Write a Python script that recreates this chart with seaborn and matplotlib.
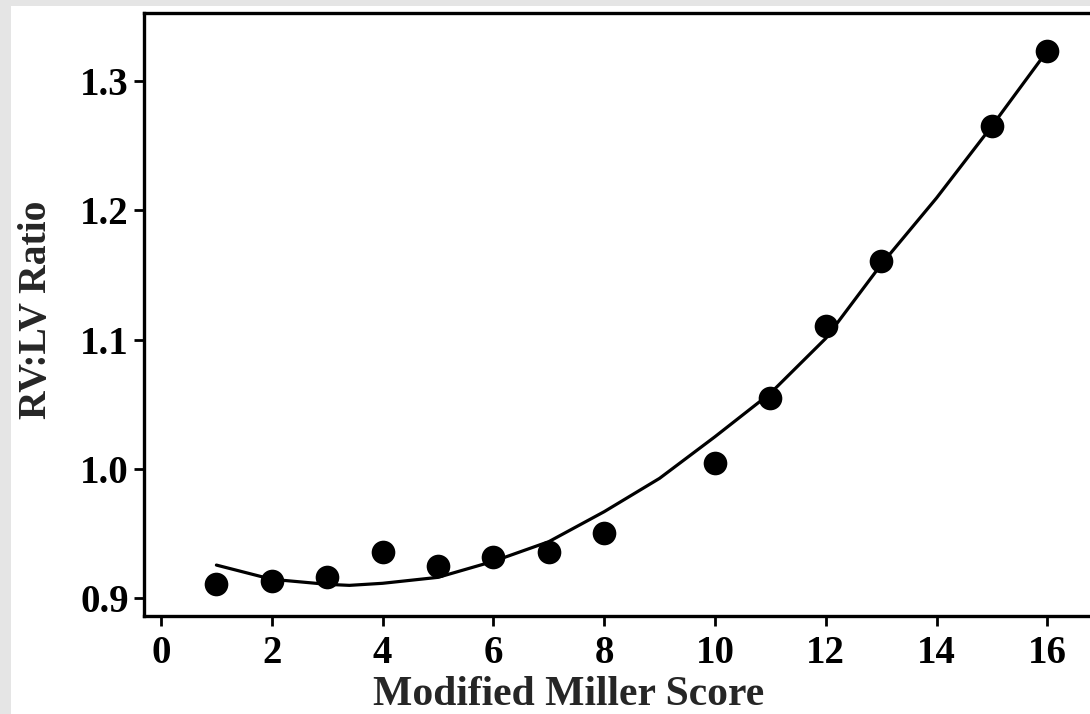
import matplotlib
matplotlib.use("Agg")
import matplotlib.pyplot as plt
import seaborn as sns
import pandas as pd
from matplotlib.patches import Rectangle

# Observed data points
miller_score = [1, 2, 3, 4, 5, 6, 7, 8, 10, 11, 12, 13, 15, 16]
rv_lv_ratio = [0.911, 0.913, 0.9165, 0.9354, 0.9248, 0.932, 0.9354, 0.950,
               1.0042, 1.0545, 1.1107, 1.161, 1.2653, 1.3234]

# Fitted curve
fit_x = [1, 2, 3, 3.4, 4, 5, 6, 7, 8, 9, 10, 11, 12, 13, 14, 15, 16]
fit_y = [0.9255, 0.9145, 0.9106, 0.9098, 0.9114, 0.916, 0.9284, 0.9436, 0.9668,
         0.9926, 1.0248, 1.0584, 1.1009, 1.158, 1.2095, 1.2652, 1.3234]

x_ticks = [0, 2, 4, 6, 8, 10, 12, 14, 16]
y_ticks = [0.9, 1.0, 1.1, 1.2, 1.3]
y_tick_labels = ["0.9", "1.0", "1.1", "1.2", "1.3"]

sns.set_style("ticks")
plt.rcParams['font.family'] = ['Liberation Serif', 'DejaVu Serif']
plt.rcParams['font.weight'] = 'bold'

W, H = 1090, 714
fig = plt.figure(figsize=(W / 100, H / 100), dpi=100, facecolor="white")
gray = "#e5e5e5"
fig.patches.append(Rectangle((0, 0), 11 / W, 1, transform=fig.transFigure,
                             facecolor=gray, edgecolor="none", zorder=-10))
fig.patches.append(Rectangle((0, (H - 6) / H), 1, 6 / H, transform=fig.transFigure,
                             facecolor=gray, edgecolor="none", zorder=-10))

left, right = 144 / W, 1.0
bottom, top = (H - 616) / H, (H - 13) / H
ax = fig.add_axes([left, bottom, right - left, top - bottom])
ax.set_facecolor("white")

pts = pd.DataFrame({"x": miller_score, "y": rv_lv_ratio})
fit = pd.DataFrame({"x": fit_x, "y": fit_y})

sns.lineplot(data=fit, x="x", y="y", ax=ax, color="black", linewidth=2.3,
             sort=False, zorder=2)
sns.scatterplot(data=pts, x="x", y="y", ax=ax, color="black", s=290,
                edgecolor="black", linewidth=0, zorder=3)

ax.set_xlim(-0.307, 16.77)
ax.set_ylim(0.8861, 1.3526)
ax.set_xticks(x_ticks)
ax.set_xticklabels([str(t) for t in x_ticks])
ax.set_yticks(y_ticks)
ax.set_yticklabels(y_tick_labels)

for side in ["left", "top", "bottom"]:
    ax.spines[side].set_visible(True)
    ax.spines[side].set_linewidth(2.4)
    ax.spines[side].set_color("black")
ax.spines["right"].set_visible(False)

ax.tick_params(axis="both", direction="out", length=7, width=2, color="black",
               labelsize=28, labelcolor="black")
ax.tick_params(axis="x", pad=7)
ax.tick_params(axis="y", pad=4)
for lab in ax.get_xticklabels() + ax.get_yticklabels():
    lab.set_fontweight("bold")

ax.set_xlabel("Modified Miller Score", fontsize=30, fontweight="bold")
ax.set_ylabel("RV:LV Ratio", fontsize=28.5, fontweight="bold")
ax.xaxis.set_label_coords(0.449, -0.099)
ax.yaxis.set_label_coords(-0.094, 0.507)

fig.savefig("out.png", dpi=100, facecolor=fig.get_facecolor())
